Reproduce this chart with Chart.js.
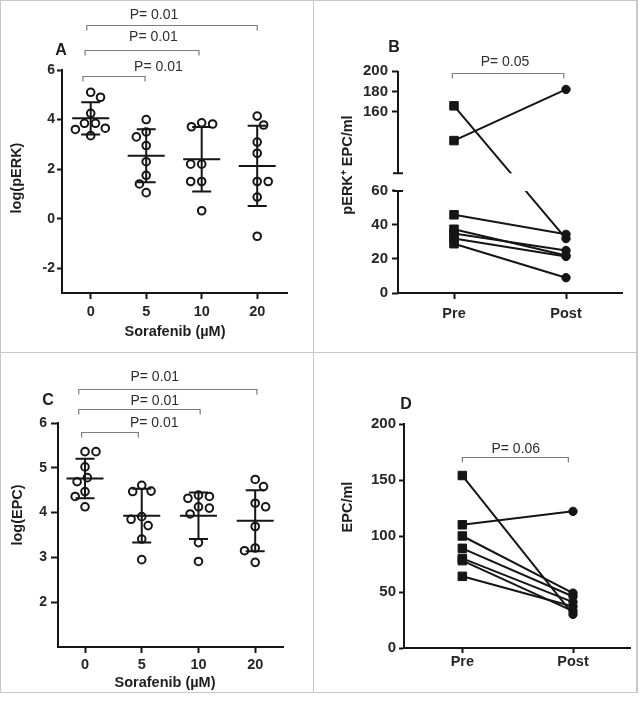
<!DOCTYPE html>
<html>
<head>
<meta charset="utf-8">
<script src="https://cdn.jsdelivr.net/npm/chart.js@4.4.1/dist/chart.umd.min.js"></script>
<style>
  html, body { margin: 0; padding: 0; background: #fff; }
  #figure { position: relative; width: 641px; height: 703px; }
  #figure canvas { position: absolute; }
  .rule { position: absolute; background: #c8c8c8; }
</style>
</head>
<body>
<div id="figure">
  <canvas id="panelA" width="313" height="352" style="left:0;top:0"></canvas>
  <canvas id="panelB" width="328" height="352" style="left:313px;top:0"></canvas>
  <canvas id="panelC" width="313" height="351" style="left:0;top:352px"></canvas>
  <canvas id="panelD" width="328" height="351" style="left:313px;top:352px"></canvas>
  <div class="rule" style="left:0;top:0;width:638px;height:1px"></div>
  <div class="rule" style="left:0;top:0;width:1px;height:693px"></div>
  <div class="rule" style="left:0;top:692px;width:638px;height:1px"></div>
  <div class="rule" style="left:636px;top:0;width:2px;height:693px"></div>
  <div class="rule" style="left:313px;top:0;width:1px;height:693px"></div>
  <div class="rule" style="left:0;top:352px;width:638px;height:1px"></div>
</div>
<script>
const FONT = '"Liberation Sans", Arial, Helvetica, sans-serif';
const INK = "#151515";

// A: log(pERK) by sorafenib dose
const doseLabels = ["0", "5", "10", "20"];
const pErkDose0 = [5.1, 4.9, 4.25, 3.85, 3.85, 3.65, 3.6, 3.35];
const pErkDose5 = [4.0, 3.5, 3.3, 2.95, 2.3, 1.75, 1.4, 1.05];
const pErkDose10 = [3.87, 3.82, 3.71, 2.2, 2.2, 1.5, 1.5, 0.32];
const pErkDose20 = [4.14, 3.78, 3.09, 2.64, 1.5, 1.5, 0.87, -0.71];
const pErkMean = [4.05, 2.54, 2.4, 2.13];
const pErkSd = [0.65, 1.07, 1.3, 1.62];
const pErkTicks = [-2, 0, 2, 4, 6];

// C: log(EPC) by sorafenib dose
const epcDose0 = [5.36, 5.36, 5.02, 4.78, 4.69, 4.47, 4.36, 4.13];
const epcDose5 = [4.61, 4.48, 4.47, 3.91, 3.85, 3.71, 3.41, 2.95];
const epcDose10 = [4.39, 4.36, 4.32, 4.13, 4.1, 3.97, 3.33, 2.91];
const epcDose20 = [4.74, 4.58, 4.21, 4.13, 3.69, 3.21, 3.15, 2.89];
const epcMean = [4.76, 3.93, 3.93, 3.82];
const epcSd = [0.44, 0.6, 0.52, 0.68];
const epcLogTicks = [2, 3, 4, 5, 6];

// B: pERK+ EPC/ml before and after
const visitLabels = ["Pre", "Post"];
const pErkEpcPre = [166, 132, 46, 37.5, 35, 32, 29];
const pErkEpcPost = [32, 182, 34.5, 22, 25, 21.5, 9];
const pErkEpcTicks = [0, 20, 40, 60, 160, 180, 200];
const pErkEpcBreak = [60, 100];

// D: EPC/ml before and after
const epcPre = [154, 110, 100, 89, 80, 78, 64];
const epcPost = [30, 122, 49, 46, 41, 33, 37];
const epcTicks = [0, 50, 100, 150, 200];

// p-value brackets (x in category units, y in axis units)
const pErkComparisons = [
  { from: -0.14, to: 0.98, y: 5.77, label: "P= 0.01", labelX: 1.22, labelY: 6.13 },
  { from: -0.1, to: 1.95, y: 6.81, label: "P= 0.01", labelX: 1.13, labelY: 7.34 },
  { from: -0.07, to: 3.0, y: 7.82, label: "P= 0.01", labelX: 1.14, labelY: 8.22 },
];
const epcLogComparisons = [
  { from: -0.06, to: 0.94, y: 5.79, label: "P= 0.01", labelX: 1.22, labelY: 5.99 },
  { from: -0.11, to: 2.03, y: 6.31, label: "P= 0.01", labelX: 1.23, labelY: 6.49 },
  { from: -0.11, to: 3.03, y: 6.76, label: "P= 0.01", labelX: 1.23, labelY: 7.02 },
];
const pErkEpcComparisons = [
  { from: -0.015, to: 0.98, y: 197.8, label: "P= 0.05", labelX: 0.455, labelY: 209 },
];
const epcComparisons = [
  { from: 0, to: 0.958, y: 170.3, label: "P= 0.06", labelX: 0.483, labelY: 177.4 },
];

// broken y axis: value -> pixel is piecewise, gap between the two segments
class BrokenLinearScale extends Chart.LinearScale {
  getPixelForValue(value) {
    if (value === null || value === undefined) return NaN;
    const [lowMax, highMin] = this.options.breakRange;
    const [lowShare, highStart] = this.options.breakShare;
    let d;
    if (value <= lowMax) {
      d = ((value - this.min) / (lowMax - this.min)) * lowShare;
    } else if (value >= highMin) {
      d = highStart + ((value - highMin) / (this.max - highMin)) * (1 - highStart);
    } else {
      d = lowShare + ((value - lowMax) / (highMin - lowMax)) * (highStart - lowShare);
    }
    return this.getPixelForDecimal(d);
  }
  getValueForPixel(pixel) {
    const [lowMax, highMin] = this.options.breakRange;
    const [lowShare, highStart] = this.options.breakShare;
    const d = this.getDecimalForPixel(pixel);
    if (d <= lowShare) return this.min + (d / lowShare) * (lowMax - this.min);
    if (d >= highStart) return highMin + ((d - highStart) / (1 - highStart)) * (this.max - highMin);
    return lowMax + ((d - lowShare) / (highStart - lowShare)) * (highMin - lowMax);
  }
}
BrokenLinearScale.id = "brokenLinear";
Chart.register(BrokenLinearScale);

// simple beeswarm: spread points sideways so circles do not overlap
function swarmOffsets(values, pxPerX, pxPerY, diam) {
  const order = values.map((v, i) => i).sort((a, b) => values[b] - values[a]);
  const placed = [];
  const offsets = new Array(values.length).fill(0);
  let side = 1;
  order.forEach((i) => {
    const y = values[i] * pxPerY;
    const near = placed.filter((p) => Math.abs(p.y - y) < diam);
    const candidates = [0];
    near.forEach((p) => {
      const dx = Math.sqrt(diam * diam - (p.y - y) ** 2);
      candidates.push(p.x + dx, p.x - dx);
    });
    const free = candidates.filter((c) =>
      near.every((p) => Math.hypot(p.x - c, p.y - y) >= diam - 0.01),
    );
    free.sort((a, b) => Math.abs(a) - Math.abs(b) || (a - b) * side);
    const x = free[0];
    side = -side;
    placed.push({ x, y });
    offsets[i] = x / pxPerX;
  });
  return offsets;
}

function textPlugin(geom, items) {
  return {
    id: "panelText",
    afterDraw(chart) {
      const ctx = chart.ctx;
      items.forEach((t) => {
        ctx.save();
        ctx.font = t.font;
        ctx.fillStyle = t.color || "#1e1e1e";
        ctx.textAlign = "center";
        ctx.textBaseline = "middle";
        ctx.translate(t.x - geom.x0, t.y - geom.y0);
        if (t.rotate) ctx.rotate(-Math.PI / 2);
        ctx.fillText(t.text, 0, 0);
        ctx.restore();
      });
    },
  };
}

function bracketPlugin(comparisons) {
  return {
    id: "brackets",
    afterDraw(chart) {
      const { ctx, scales } = chart;
      ctx.save();
      ctx.strokeStyle = "#7d7d7d";
      ctx.lineWidth = 1.2;
      comparisons.forEach((c) => {
        const x1 = scales.x.getPixelForValue(c.from);
        const x2 = scales.x.getPixelForValue(c.to);
        const y = Math.round(scales.y.getPixelForValue(c.y)) + 0.5;
        ctx.beginPath();
        ctx.moveTo(x1, y + 5);
        ctx.lineTo(x1, y);
        ctx.lineTo(x2, y);
        ctx.lineTo(x2, y + 5);
        ctx.stroke();
        ctx.fillStyle = "#2e2e2e";
        ctx.font = "14px " + FONT;
        ctx.textAlign = "center";
        ctx.textBaseline = "middle";
        ctx.fillText(c.label, scales.x.getPixelForValue(c.labelX), scales.y.getPixelForValue(c.labelY));
      });
      ctx.restore();
    },
  };
}

function meanSdPlugin(means, sds) {
  return {
    id: "meanSd",
    afterDatasetsDraw(chart) {
      const { ctx, scales } = chart;
      ctx.save();
      ctx.strokeStyle = INK;
      ctx.lineWidth = 2;
      means.forEach((m, i) => {
        const cx = scales.x.getPixelForValue(i);
        const top = scales.y.getPixelForValue(m + sds[i]);
        const bottom = scales.y.getPixelForValue(m - sds[i]);
        const mid = scales.y.getPixelForValue(m);
        ctx.beginPath();
        ctx.moveTo(cx, top);
        ctx.lineTo(cx, bottom);
        ctx.moveTo(cx - 9.5, top);
        ctx.lineTo(cx + 9.5, top);
        ctx.moveTo(cx - 9.5, bottom);
        ctx.lineTo(cx + 9.5, bottom);
        ctx.moveTo(cx - 18.5, mid);
        ctx.lineTo(cx + 18.5, mid);
        ctx.stroke();
      });
      ctx.restore();
    },
  };
}

function axisOptions(geom, cfg) {
  const tickFont = { family: FONT, size: cfg.xFontSize, weight: "bold" };
  return {
    x: {
      type: "linear",
      min: cfg.xMin,
      max: cfg.xMax,
      afterFit: (s) => { s.height = geom.y0 + geom.h - geom.bottom; },
      afterBuildTicks: (s) => { s.ticks = cfg.xLabels.map((l, i) => ({ value: i })); },
      ticks: {
        autoSkip: false,
        maxRotation: 0,
        padding: cfg.xPad,
        color: "#262626",
        font: tickFont,
        callback: (v, i) => cfg.xLabels[i],
      },
      grid: { display: true, drawOnChartArea: false, drawTicks: true, tickLength: cfg.xTick, tickWidth: 2, tickColor: INK },
      border: { display: true, color: INK, width: 2 },
    },
    y: {
      type: cfg.yType || "linear",
      min: cfg.yMin,
      max: cfg.yMax,
      breakRange: cfg.breakRange,
      breakShare: cfg.breakShare,
      afterFit: (s) => { s.width = geom.left - geom.x0; },
      afterBuildTicks: (s) => { s.ticks = cfg.yTicks.map((v) => ({ value: v })); },
      ticks: {
        autoSkip: false,
        padding: cfg.yPad,
        color: "#262626",
        font: { family: FONT, size: cfg.yFontSize, weight: "bold" },
      },
      grid: { display: true, drawOnChartArea: false, drawTicks: true, tickLength: cfg.yTick, tickWidth: 2, tickColor: INK },
      border: { display: !cfg.breakRange, color: INK, width: 2 },
    },
  };
}

function baseOptions(geom, cfg) {
  return {
    responsive: false,
    animation: false,
    events: [],
    layout: {
      autoPadding: false,
      padding: { left: 0, top: geom.top - geom.y0, right: geom.x0 + geom.w - geom.right, bottom: 0 },
    },
    plugins: { legend: { display: false }, tooltip: { enabled: false } },
    scales: axisOptions(geom, cfg),
  };
}

function buildDosePanel(id, geom, cfg) {
  const pxPerX = (geom.right - geom.left) / (cfg.xMax - cfg.xMin);
  const pxPerY = (geom.bottom - geom.top) / (cfg.yMax - cfg.yMin);
  const points = [];
  cfg.groups.forEach((values, g) => {
    const offsets = swarmOffsets(values, pxPerX, pxPerY, 11);
    values.forEach((v, k) => points.push({ x: g + offsets[k], y: v }));
  });

  new Chart(document.getElementById(id), {
    type: "scatter",
    data: {
      datasets: [
        {
          data: points,
          pointRadius: 3.8,
          pointBorderWidth: 2,
          pointBorderColor: INK,
          pointBackgroundColor: "rgba(255,255,255,0)",
        },
      ],
    },
    options: baseOptions(geom, cfg),
    plugins: [meanSdPlugin(cfg.means, cfg.sds), bracketPlugin(cfg.comparisons), textPlugin(geom, cfg.texts)],
  });
}

function brokenAxisPlugin() {
  return {
    id: "brokenAxis",
    afterDatasetsDraw(chart) {
      const { ctx, chartArea, scales } = chart;
      const [lowMax, highMin] = scales.y.options.breakRange;
      const yLow = scales.y.getPixelForValue(lowMax);
      const yHigh = scales.y.getPixelForValue(highMin);
      ctx.save();
      ctx.fillStyle = "#fff";
      ctx.fillRect(chartArea.left - 3, yHigh, chartArea.right - chartArea.left + 3, yLow - yHigh);
      ctx.restore();
    },
    afterDraw(chart) {
      const { ctx, chartArea, scales } = chart;
      const y = scales.y;
      const [lowMax, highMin] = y.options.breakRange;
      const ax = chartArea.left;
      ctx.save();
      ctx.strokeStyle = INK;
      ctx.lineWidth = 2;
      ctx.beginPath();
      ctx.moveTo(ax, y.getPixelForValue(y.min) + 1);
      ctx.lineTo(ax, y.getPixelForValue(lowMax));
      ctx.moveTo(ax, y.getPixelForValue(highMin));
      ctx.lineTo(ax, y.getPixelForValue(y.max));
      ctx.moveTo(ax - 5, y.getPixelForValue(lowMax));
      ctx.lineTo(ax + 5, y.getPixelForValue(lowMax));
      ctx.moveTo(ax - 5, y.getPixelForValue(highMin));
      ctx.lineTo(ax + 5, y.getPixelForValue(highMin));
      ctx.stroke();
      ctx.restore();
    },
  };
}

function buildPairedPanel(id, geom, cfg) {
  const datasets = cfg.pre.map((p, i) => ({
    data: [{ x: 0, y: p }, { x: 1, y: cfg.post[i] }],
    showLine: true,
    borderColor: INK,
    borderWidth: 2,
    pointStyle: ["rect", "circle"],
    pointRadius: [6, 4.2],
    pointBorderWidth: 1,
    pointBorderColor: INK,
    pointBackgroundColor: INK,
  }));

  const extra = cfg.breakRange ? [brokenAxisPlugin()] : [];
  new Chart(document.getElementById(id), {
    type: "scatter",
    data: { datasets },
    options: baseOptions(geom, cfg),
    plugins: [...extra, bracketPlugin(cfg.comparisons), textPlugin(geom, cfg.texts)],
  });
}

const titleFont = "bold 14.5px " + FONT;
const letterFont = "bold 16px " + FONT;

buildDosePanel("panelA", { x0: 0, y0: 0, w: 313, h: 352, left: 62, top: 70, right: 287, bottom: 293 }, {
  groups: [pErkDose0, pErkDose5, pErkDose10, pErkDose20],
  means: pErkMean,
  sds: pErkSd,
  comparisons: pErkComparisons,
  xLabels: doseLabels,
  xMin: -0.517, xMax: 3.537,
  yMin: -3, yMax: 6,
  yTicks: pErkTicks,
  xFontSize: 14.5, yFontSize: 14,
  xTick: 6, xPad: 4, yTick: 5, yPad: 2,
  texts: [
    { text: "A", x: 61, y: 51, font: letterFont },
    { text: "log(pERK)", x: 17, y: 178, font: titleFont, rotate: true },
    { text: "Sorafenib (µM)", x: 175, y: 332, font: titleFont },
  ],
});

buildPairedPanel("panelB", { x0: 313, y0: 0, w: 328, h: 352, left: 398, top: 71, right: 622, bottom: 293 }, {
  pre: pErkEpcPre,
  post: pErkEpcPost,
  comparisons: pErkEpcComparisons,
  xLabels: visitLabels,
  xMin: -0.5, xMax: 1.5,
  yType: "brokenLinear",
  yMin: 0, yMax: 200,
  breakRange: pErkEpcBreak,
  breakShare: [0.4595, 0.539],
  yTicks: pErkEpcTicks,
  xFontSize: 14.5, yFontSize: 15,
  xTick: 6, xPad: 6, yTick: 6, yPad: 4,
  texts: [
    { text: "B", x: 394, y: 48, font: letterFont },
    { text: "pERK\u207A EPC/ml", x: 348, y: 165, font: titleFont, rotate: true },
  ],
});

buildDosePanel("panelC", { x0: 0, y0: 352, w: 313, h: 351, left: 58, top: 423, right: 283, bottom: 647 }, {
  groups: [epcDose0, epcDose5, epcDose10, epcDose20],
  means: epcMean,
  sds: epcSd,
  comparisons: epcLogComparisons,
  xLabels: doseLabels,
  xMin: -0.476, xMax: 3.49,
  yMin: 1, yMax: 6,
  yTicks: epcLogTicks,
  xFontSize: 14.5, yFontSize: 14,
  xTick: 6, xPad: 3, yTick: 7, yPad: 4,
  texts: [
    { text: "C", x: 48, y: 401, font: letterFont },
    { text: "log(EPC)", x: 17.5, y: 515, font: titleFont, rotate: true },
    { text: "Sorafenib (µM)", x: 165, y: 683, font: titleFont },
  ],
});

buildPairedPanel("panelD", { x0: 313, y0: 352, w: 328, h: 351, left: 404, top: 424, right: 630, bottom: 648 }, {
  pre: epcPre,
  post: epcPost,
  comparisons: epcComparisons,
  xLabels: visitLabels,
  xMin: -0.527, xMax: 1.515,
  yMin: 0, yMax: 200,
  yTicks: epcTicks,
  xFontSize: 14.5, yFontSize: 15,
  xTick: 5, xPad: 0, yTick: 5, yPad: 3,
  texts: [
    { text: "D", x: 406, y: 405, font: letterFont },
    { text: "EPC/ml", x: 348, y: 507, font: titleFont, rotate: true },
  ],
});
</script>
</body>
</html>
